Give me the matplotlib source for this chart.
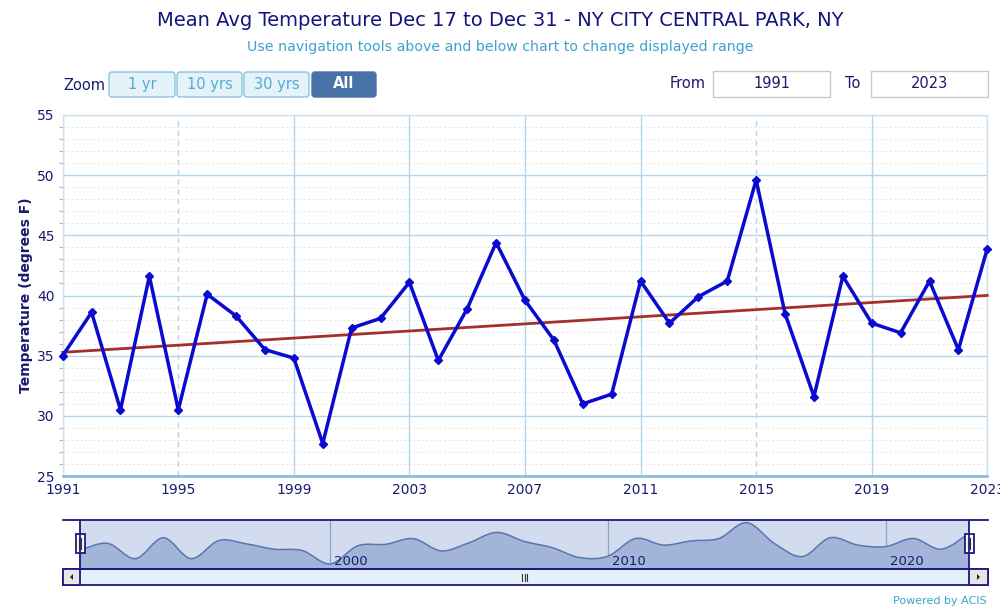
import numpy as np
import matplotlib
matplotlib.use("Agg")
import matplotlib.pyplot as plt
from matplotlib.patches import FancyBboxPatch, Rectangle, PathPatch, Polygon
from matplotlib.path import Path

# ---------------- data ----------------
years = list(range(1991, 2024))
temps = [35.0, 38.6, 30.5, 41.6, 30.5, 40.1, 38.3, 35.5, 34.8, 27.7,
         37.3, 38.1, 41.1, 34.6, 38.9, 44.4, 39.6, 36.3, 31.0, 31.8,
         41.2, 37.7, 39.9, 41.2, 49.6, 38.5, 31.6, 41.6, 37.7, 36.9,
         41.2, 35.5, 43.9]
x_ticks = list(range(1991, 2024, 4))
y_ticks = [25, 30, 35, 40, 45, 50, 55]
nav_ticks = [2000, 2010, 2020]
dashed_years = [1995, 2015]
zoom_buttons = ["1 yr", "10 yrs", "30 yrs", "All"]
title = "Mean Avg Temperature Dec 17 to Dec 31 - NY CITY CENTRAL PARK, NY"
subtitle = "Use navigation tools above and below chart to change displayed range"

W, H = 1000, 611
fig = plt.figure(figsize=(W / 100, H / 100), dpi=100)
fig.patch.set_facecolor("white")

NAVY = "#1a1a6e"
LB = "#3fa2cc"

def ax_px(x0, y0, x1, y1, **kw):
    return fig.add_axes([x0 / W, 1 - y1 / H, (x1 - x0) / W, (y1 - y0) / H], **kw)

# ---------------- main chart ----------------
ax = ax_px(62.7, 115, 987.3, 476)
ax.set_xlim(1991, 2023)
ax.set_ylim(25, 55)
ax.set_yticks(y_ticks)
ax.set_yticks(np.arange(25, 56, 1), minor=True)
ax.set_xticks(x_ticks)
ax.tick_params(axis="both", which="major", length=0, labelsize=10, labelcolor=NAVY, pad=6)
ax.tick_params(axis="y", which="minor", length=3, color="#b0b0b0", width=0.8)
ax.tick_params(axis="x", which="major", pad=5)
for v in np.arange(26, 55, 1):
    if v % 5:
        ax.axhline(v, color="#dedede", lw=0.7, ls=(0, (1.5, 3)), zorder=0)
for v in y_ticks:
    ax.axhline(v, color="#b5d6ea", lw=1.0, zorder=0.5)
for xv in x_ticks:
    if xv in dashed_years:
        ax.axvline(xv, color="#b5d6ea", lw=1.0, ls=(0, (4, 3)), zorder=0.5)
    else:
        ax.axvline(xv, color="#b5d6ea", lw=1.0, zorder=0.5)
for s in ["top", "right", "left"]:
    ax.spines[s].set_color("#d0e2ee")
    ax.spines[s].set_linewidth(1.0)
ax.spines["bottom"].set_color("#80b8dc")
ax.spines["bottom"].set_linewidth(1.8)

coef = np.polyfit(years, temps, 1)
trend = np.polyval(coef, [years[0], years[-1]])
ax.plot([years[0], years[-1]], trend, color="#a3302a", lw=2.0, zorder=3, clip_on=False)
ax.plot(years, temps, color="#0a0ad0", lw=2.5, marker="D", ms=4.5, zorder=4, clip_on=False)
ax.set_ylabel("Temperature (degrees F)", fontsize=10, fontweight="bold", color=NAVY, labelpad=3)

# ---------------- navigator ----------------
nav = ax_px(80, 520, 969, 569)
nav.set_xlim(1991, 2023)
nav.set_ylim(25.0, 51.0)
nav.set_facecolor("#d3dcef")
nav.set_xticks([])
nav.set_yticks([])
for s in nav.spines.values():
    s.set_visible(False)
for xv in nav_ticks:
    nav.axvline(xv, color="#8ea3c8", lw=0.9, zorder=1)
    nav.text(xv + 0.15, 25.6, str(xv), fontsize=9.5, color=NAVY, ha="left", va="bottom", zorder=5)

xs = np.array(years, float)
ys = np.array(temps, float)
verts = [(xs[0], ys[0])]
codes = [Path.MOVETO]
n = len(xs)
for i in range(n - 1):
    p0 = np.array([xs[max(i - 1, 0)], ys[max(i - 1, 0)]])
    p1 = np.array([xs[i], ys[i]])
    p2 = np.array([xs[i + 1], ys[i + 1]])
    p3 = np.array([xs[min(i + 2, n - 1)], ys[min(i + 2, n - 1)]])
    c1 = p1 + (p2 - p0) / 6.0
    c2 = p2 - (p3 - p1) / 6.0
    verts += [tuple(c1), tuple(c2), tuple(p2)]
    codes += [Path.CURVE4] * 3
line_path = Path(verts, codes)
fill_verts = verts + [(xs[-1], 20), (xs[0], 20), (xs[0], ys[0])]
fill_codes = codes + [Path.LINETO, Path.LINETO, Path.CLOSEPOLY]
nav.add_patch(PathPatch(Path(fill_verts, fill_codes), facecolor="#a2b5d9", edgecolor="none", zorder=2))
nav.add_patch(PathPatch(line_path, facecolor="none", edgecolor="#5877ae", lw=1.1, zorder=3))

# ---------------- overlay (buttons, frames, text) ----------------
ov = fig.add_axes([0, 0, 1, 1], zorder=10)
ov.set_xlim(0, W)
ov.set_ylim(H, 0)
ov.axis("off")
ov.patch.set_alpha(0)

ov.text(500, 21, title, fontsize=14, color="#14147e", ha="center", va="center")
ov.text(500, 47, subtitle, fontsize=10.2, color=LB, ha="center", va="center")

# zoom buttons
ov.text(63, 85, "Zoom", fontsize=10.5, color=NAVY, ha="left", va="center")
bx = [(108, 176), (176, 243), (243, 310), (311, 377)]
for (x0, x1), lab in zip(bx, zoom_buttons):
    sel = lab == "All"
    ov.add_patch(FancyBboxPatch((x0 + 1, 72), x1 - x0 - 2, 25,
                                boxstyle="round,pad=0,rounding_size=3",
                                facecolor="#4873a9" if sel else "#e4f2fa",
                                edgecolor="#4873a9" if sel else "#8cc3df", lw=1.0))
    ov.text((x0 + x1) / 2, 84, lab, fontsize=10.5, ha="center", va="center",
            color="white" if sel else "#55aad2", fontweight="bold" if sel else "normal")

# from / to boxes
ov.text(706, 84, "From", fontsize=10.5, color=NAVY, ha="right", va="center")
ov.add_patch(Rectangle((713, 71), 117, 26, facecolor="white", edgecolor="#c8c8c8", lw=1.0))
ov.text(771.5, 84, str(years[0]), fontsize=10.5, color=NAVY, ha="center", va="center")
ov.text(845, 84, "To", fontsize=10.5, color=NAVY, ha="left", va="center")
ov.add_patch(Rectangle((871, 71), 117, 26, facecolor="white", edgecolor="#c8c8c8", lw=1.0))
ov.text(929.5, 84, str(years[-1]), fontsize=10.5, color=NAVY, ha="center", va="center")

# navigator frame
NV = "#1a1a80"
ov.plot([63, 80, 80, 969, 969, 988], [520, 520, 569, 569, 520, 520], color=NV, lw=1.3)
ov.plot([80, 969], [520, 520], color=NV, lw=1.3)
# scrollbar
ov.add_patch(Rectangle((63, 569), 925, 16, facecolor="#e4f0fb", edgecolor=NV, lw=1.3))
ov.add_patch(Rectangle((63, 569), 17, 16, facecolor="#e6e6e6", edgecolor=NV, lw=1.3))
ov.add_patch(Rectangle((969, 569), 19, 16, facecolor="#e6e6e6", edgecolor=NV, lw=1.3))
ov.add_patch(Polygon([(73, 574), (73, 580), (70, 577)], closed=True, facecolor="#222222", edgecolor="none"))
ov.add_patch(Polygon([(977, 574), (977, 580), (980, 577)], closed=True, facecolor="#222222", edgecolor="none"))
for dx in (-2.5, 0, 2.5):
    ov.plot([524.5 + dx, 524.5 + dx], [574, 581], color="#333333", lw=0.8)
# handles
for hx in (80, 969):
    ov.add_patch(Rectangle((hx - 4.5, 534), 9, 19, facecolor="white", edgecolor=NV, lw=1.3))
    for dx in (-1.3, 1.3):
        ov.plot([hx + dx, hx + dx], [538, 549], color="#333333", lw=0.9)

ov.text(987, 601, "Powered by ACIS", fontsize=8, color=LB, ha="right", va="center")

fig.savefig("out.png", dpi=100, facecolor="white")
